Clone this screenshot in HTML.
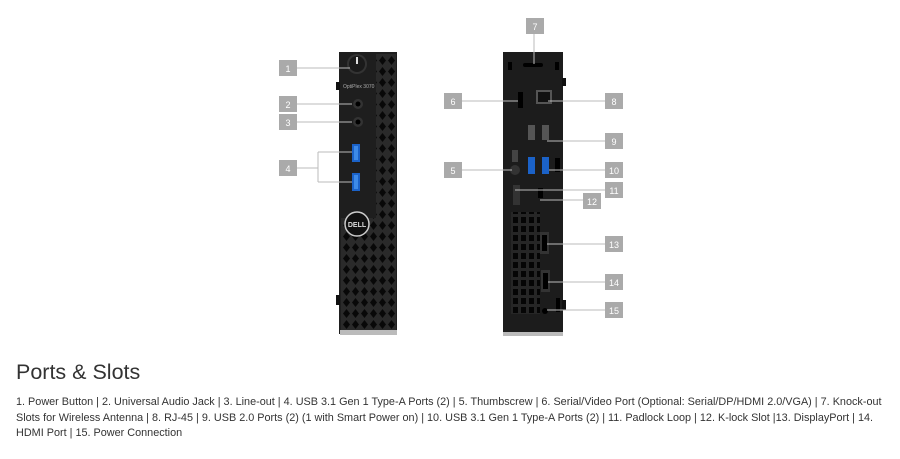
<!DOCTYPE html>
<html><head><meta charset="utf-8"><style>
body{margin:0;width:900px;height:459px;background:#fff;position:relative;overflow:hidden;font-family:"Liberation Sans",sans-serif}
svg{position:absolute;left:0;top:0}
h1{position:absolute;left:16px;top:360px;margin:0;font-weight:normal;font-size:21.5px;color:#333}
p{position:absolute;left:16px;top:395px;margin:0;width:875px;font-size:10.85px;line-height:15.5px;color:#333}
</style></head><body>
<svg width="900" height="350" viewBox="0 0 900 350">
<defs>
<pattern id="dia" width="9" height="11" patternUnits="userSpaceOnUse">
<rect width="9" height="11" fill="#2a2a2a"/>
<path d="M4.5 1 L8 5.5 L4.5 10 L1 5.5Z" fill="#080808"/>
</pattern>
<pattern id="grid" width="8" height="9" patternUnits="userSpaceOnUse">
<rect width="8" height="9" fill="#262626"/>
<rect x="1" y="1" width="5" height="6" fill="#050505"/>
</pattern>
</defs>
<!-- front unit -->
<rect x="339" y="52" width="58" height="282" fill="#1e1e1e"/>
<rect x="376" y="54" width="20" height="165" fill="url(#dia)"/>
<rect x="341" y="218" width="55" height="112" fill="url(#dia)"/>
<rect x="340" y="330" width="57" height="5" fill="#bbb"/>
<rect x="336" y="82" width="4" height="8" fill="#111"/>
<rect x="336" y="295" width="4" height="10" fill="#111"/>
<circle cx="357" cy="64" r="10" fill="#333"/><circle cx="357" cy="64" r="8" fill="#1a1a1a"/>
<rect x="356" y="57" width="2" height="7" fill="#ddd"/>
<text x="343" y="88" font-size="5" fill="#aaa">OptiPlex 3070</text>
<circle cx="358" cy="104" r="5" fill="#333"/><circle cx="358" cy="104" r="2.5" fill="#000"/>
<circle cx="358" cy="122" r="5" fill="#333"/><circle cx="358" cy="122" r="2.5" fill="#000"/>
<rect x="352" y="144" width="8" height="18" fill="#1b62c8"/><rect x="354" y="146" width="4" height="14" fill="#3d8ae8"/>
<rect x="352" y="173" width="8" height="18" fill="#1b62c8"/><rect x="354" y="175" width="4" height="14" fill="#3d8ae8"/>
<circle cx="357" cy="224" r="12" fill="#111" stroke="#ccc" stroke-width="1.5"/>
<text x="357" y="227" font-size="7" font-weight="bold" fill="#ddd" text-anchor="middle">DELL</text>
<!-- back unit -->
<rect x="503" y="52" width="60" height="282" fill="#1c1c1c"/>
<rect x="503" y="332" width="60" height="4" fill="#bbb"/>
<rect x="562" y="78" width="4" height="8" fill="#111"/><rect x="562" y="300" width="4" height="10" fill="#111"/>
<rect x="508" y="62" width="4" height="8" fill="#000"/><rect x="555" y="62" width="4" height="8" fill="#000"/>
<rect x="523" y="63" width="20" height="4" rx="2" fill="#000"/>
<rect x="518" y="92" width="5" height="16" fill="#000"/>
<rect x="536" y="90" width="16" height="14" fill="#555"/><rect x="538" y="92" width="12" height="10" fill="#111"/>
<rect x="528" y="125" width="7" height="15" fill="#555"/><rect x="542" y="125" width="7" height="15" fill="#555"/>
<rect x="528" y="157" width="7" height="17" fill="#1b62c8"/><rect x="542" y="157" width="7" height="17" fill="#1b62c8"/>
<circle cx="515" cy="170" r="5" fill="#333"/><rect x="512" y="150" width="6" height="12" fill="#444"/>
<rect x="555" y="158" width="5" height="14" fill="#000"/>
<rect x="513" y="185" width="7" height="20" fill="#333"/>
<rect x="538" y="188" width="5" height="10" fill="#000"/>
<rect x="511" y="212" width="29" height="102" fill="url(#grid)"/>
<rect x="540" y="232" width="9" height="22" fill="#333"/><rect x="542" y="235" width="5" height="16" fill="#000"/>
<rect x="541" y="270" width="9" height="22" fill="#333"/><rect x="543" y="273" width="5" height="16" fill="#000"/>
<circle cx="545" cy="311" r="3" fill="#000"/><rect x="556" y="298" width="4" height="14" fill="#000"/>
<!-- leader lines -->
<g stroke="#bbb" stroke-width="1" fill="none">
<path d="M297 68H350M297 104H352M297 122H352M297 168H318M318 152V182M318 152H352M318 182H352"/>
<path d="M534 34V64M462 101H518M605 101H548M605 141H547M462 170H512M605 170H549M605 190H515M583 200H540M605 244H547M605 282H548M605 310H547"/>
</g>
<g fill="#aaa">
<rect x="279" y="60" width="18" height="16"/><rect x="279" y="96" width="18" height="16"/><rect x="279" y="114" width="18" height="16"/><rect x="279" y="160" width="18" height="16"/>
<rect x="526" y="18" width="18" height="16"/><rect x="444" y="93" width="18" height="16"/><rect x="605" y="93" width="18" height="16"/>
<rect x="605" y="133" width="18" height="16"/><rect x="444" y="162" width="18" height="16"/><rect x="605" y="162" width="18" height="16"/>
<rect x="605" y="182" width="18" height="16"/><rect x="583" y="193" width="18" height="16"/><rect x="605" y="236" width="18" height="16"/>
<rect x="605" y="274" width="18" height="16"/><rect x="605" y="302" width="18" height="16"/>
</g>
<g fill="#fff" font-size="9" text-anchor="middle">
<text x="288" y="72">1</text><text x="288" y="108">2</text><text x="288" y="126">3</text><text x="288" y="172">4</text>
<text x="535" y="30">7</text><text x="453" y="105">6</text><text x="614" y="105">8</text><text x="614" y="145">9</text>
<text x="453" y="174">5</text><text x="614" y="174">10</text><text x="614" y="194">11</text><text x="592" y="205">12</text>
<text x="614" y="248">13</text><text x="614" y="286">14</text><text x="614" y="314">15</text>
</g>
</svg>
<h1>Ports &amp; Slots</h1>
<p>1. Power Button | 2. Universal Audio Jack | 3. Line-out | 4. USB 3.1 Gen 1 Type-A Ports (2) | 5. Thumbscrew | 6. Serial/Video Port (Optional: Serial/DP/HDMI 2.0/VGA) | 7. Knock-out Slots for Wireless Antenna | 8. RJ-45 | 9. USB 2.0 Ports (2) (1 with Smart Power on) | 10. USB 3.1 Gen 1 Type-A Ports (2) | 11. Padlock Loop | 12. K-lock Slot |13. DisplayPort | 14. HDMI Port | 15. Power Connection</p>
</body></html>
